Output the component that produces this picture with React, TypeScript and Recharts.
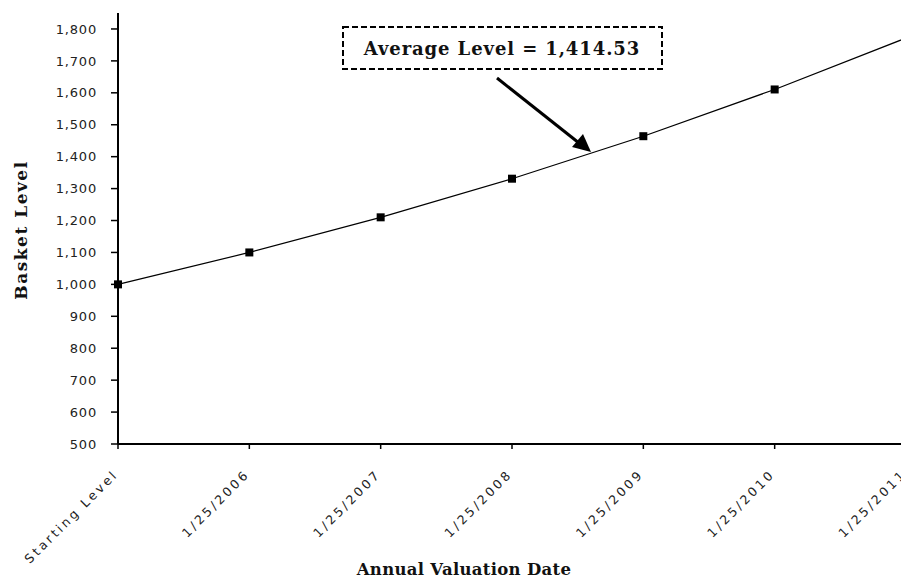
import { LineChart, Line, XAxis, YAxis } from "recharts";

// annual basket levels, 10% growth each year
const dates = [
  "Starting Level",
  "1/25/2006",
  "1/25/2007",
  "1/25/2008",
  "1/25/2009",
  "1/25/2010",
  "1/25/2011",
];
const levels = [1000, 1100, 1210, 1331, 1464.1, 1610.51, 1771.56];
const yTicks = [500, 600, 700, 800, 900, 1000, 1100, 1200, 1300, 1400, 1500, 1600, 1700, 1800];
const averageLabel = "Average Level = 1,414.53";

const chartData = dates.map((d, i) => ({ date: d, level: levels[i] }));

const tickFont = "'DejaVu Sans', Verdana, sans-serif";
const titleFont = "'DejaVu Serif', Georgia, serif";

function SquareDot({ cx, cy }: any) {
  if (cx == null || cy == null) return null;
  return <rect x={cx - 4} y={cy - 4} width={8} height={8} fill="#000" />;
}

function DateTick({ x, y, payload }: any) {
  return (
    <g transform={`translate(${x + 1},${y + 24}) rotate(-45)`}>
      <text
        textAnchor="end"
        fontSize={12.5}
        letterSpacing={2.8}
        fill="#222"
        fontFamily={tickFont}
      >
        {payload.value}
      </text>
    </g>
  );
}

export default function App() {
  return (
    <div
      style={{
        position: "absolute",
        left: 0,
        top: 0,
        width: 901,
        height: 580,
        overflow: "hidden",
        background: "#fff",
      }}
    >
      <LineChart
        width={920}
        height={580}
        data={chartData}
        margin={{ top: 13, right: 14, bottom: 0, left: 0 }}
      >
        <XAxis
          dataKey="date"
          height={136}
          tick={<DateTick />}
          tickSize={5}
          interval={0}
          axisLine={{ stroke: "#000", strokeWidth: 2 }}
          tickLine={{ stroke: "#000", strokeWidth: 1.5 }}
        />
        <YAxis
          width={118}
          domain={[500, 1850]}
          ticks={yTicks}
          tickSize={7}
          tickMargin={14}
          tickFormatter={(v: number) => v.toLocaleString("en-US")}
          tick={{ fontSize: 13, fill: "#222", fontFamily: tickFont, letterSpacing: 0.8 }}
          axisLine={{ stroke: "#000", strokeWidth: 2 }}
          tickLine={{ stroke: "#000", strokeWidth: 1.5 }}
          allowDataOverflow
        />
        <Line
          type="linear"
          dataKey="level"
          stroke="#000"
          strokeWidth={1.2}
          dot={<SquareDot />}
          activeDot={false}
          isAnimationActive={false}
        />
      </LineChart>

      <svg
        width={901}
        height={580}
        style={{ position: "absolute", left: 0, top: 0, pointerEvents: "none" }}
      >
        <text
          transform="translate(27,230) rotate(-90)"
          textAnchor="middle"
          fontSize={17}
          fontWeight="bold"
          letterSpacing={1.5}
          fontFamily={titleFont}
          fill="#111"
        >
          Basket Level
        </text>
        <text
          x={464}
          y={575}
          textAnchor="middle"
          fontSize={16.5}
          fontWeight="bold"
          letterSpacing={0.3}
          fontFamily={titleFont}
          fill="#111"
        >
          Annual Valuation Date
        </text>

        <rect
          x={343}
          y={27}
          width={319}
          height={42}
          fill="#fff"
          stroke="#000"
          strokeWidth={2}
          strokeDasharray="6 3"
        />
        <text
          x={502}
          y={55}
          textAnchor="middle"
          fontSize={18}
          fontWeight="bold"
          letterSpacing={0.9}
          fontFamily={titleFont}
          fill="#111"
        >
          {averageLabel}
        </text>

        <line x1={497} y1={78} x2={579} y2={143} stroke="#000" strokeWidth={3} />
        <polygon points="591,152 572,147 583,134" fill="#000" />
      </svg>
    </div>
  );
}
